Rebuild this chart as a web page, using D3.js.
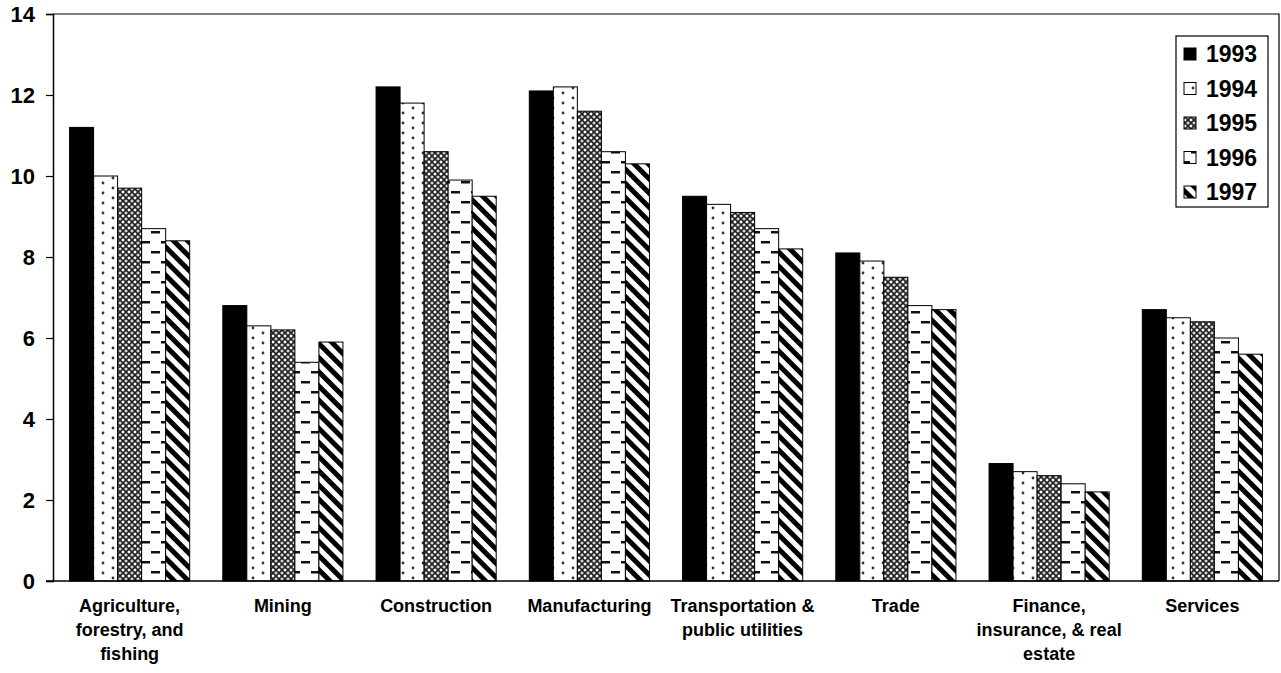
<!DOCTYPE html>
<html><head><meta charset="utf-8">
<script src="https://cdn.jsdelivr.net/npm/d3@7"></script>
<style>body{margin:0;background:#fff}svg{display:block}text{font-family:"Liberation Sans",Arial,sans-serif;font-weight:bold;fill:#000}</style>
</head><body>
<script>
const categories = [["Agriculture,","forestry, and","fishing"],["Mining"],["Construction"],["Manufacturing"],["Transportation &","public utilities"],["Trade"],["Finance,","insurance, & real","estate"],["Services"]];
const years = ["1993","1994","1995","1996","1997"];
const v1993 = [11.2, 6.8, 12.2, 12.1, 9.5, 8.1, 2.9, 6.7];
const v1994 = [10.0, 6.3, 11.8, 12.2, 9.3, 7.9, 2.7, 6.5];
const v1995 = [9.7, 6.2, 10.6, 11.6, 9.1, 7.5, 2.6, 6.4];
const v1996 = [8.7, 5.4, 9.9, 10.6, 8.7, 6.8, 2.4, 6.0];
const v1997 = [8.4, 5.9, 9.5, 10.3, 8.2, 6.7, 2.2, 5.6];
const series = [v1993, v1994, v1995, v1996, v1997];
const yTicks = [0,2,4,6,8,10,12,14];

(function(){
const W = 1281, H = 673;
const svg = d3.select("body").append("svg").attr("width", W).attr("height", H);
const defs = svg.append("defs");

let p = defs.append("pattern").attr("id","p1994").attr("patternUnits","userSpaceOnUse").attr("width",20).attr("height",10);
p.append("rect").attr("width",20).attr("height",10).attr("fill","#fff");
p.append("circle").attr("cx",3).attr("cy",3).attr("r",1.4).attr("fill","#333");
p.append("circle").attr("cx",13).attr("cy",8).attr("r",1.4).attr("fill","#333");

p = defs.append("pattern").attr("id","p1995").attr("patternUnits","userSpaceOnUse").attr("width",6).attr("height",6);
p.append("rect").attr("width",6).attr("height",6).attr("fill","#fff");
p.append("path").attr("d","M0,0L6,6M6,0L0,6").attr("stroke","#222").attr("stroke-width",1.7);
p.append("circle").attr("cx",0).attr("cy",3).attr("r",0.6).attr("fill","#444");
p.append("circle").attr("cx",6).attr("cy",3).attr("r",0.6).attr("fill","#444");

p = defs.append("pattern").attr("id","p1996").attr("patternUnits","userSpaceOnUse").attr("width",20).attr("height",20);
p.append("rect").attr("width",20).attr("height",20).attr("fill","#fff");
p.append("rect").attr("x",1).attr("y",1).attr("width",9).attr("height",2.5).attr("fill","#111");
p.append("rect").attr("x",11).attr("y",11).attr("width",9).attr("height",2.5).attr("fill","#111");

p = defs.append("pattern").attr("id","p1997").attr("patternUnits","userSpaceOnUse").attr("width",10).attr("height",10).attr("patternTransform","rotate(-45)");
p.append("rect").attr("width",10).attr("height",10).attr("fill","#fff");
p.append("rect").attr("x",0).attr("width",5).attr("height",10).attr("fill","#000");

const fills = ["#000","url(#p1994)","url(#p1995)","url(#p1996)","url(#p1997)"];

const mLeft = 53, mRight = 1279, mTop = 14, mBottom = 581;
const x0 = d3.scaleBand().domain(d3.range(categories.length)).range([mLeft, mRight]).paddingInner(0.216).paddingOuter(0.108);
const x1 = d3.scaleBand().domain(d3.range(years.length)).range([0, x0.bandwidth()]);
const y = d3.scaleLinear().domain([0,14]).range([mBottom, mTop]);

const g = svg.append("g");
categories.forEach((c,i)=>{
  series.forEach((s,j)=>{
    g.append("rect").attr("x", x0(i)+x1(j)).attr("y", y(s[i])).attr("width", x1.bandwidth()).attr("height", y(0)-y(s[i]))
      .attr("fill", fills[j]).attr("stroke","#000").attr("stroke-width",1);
  });
});

svg.append("path").attr("d",`M${mLeft},${mTop}H${mRight}V${mBottom}`).attr("fill","none").attr("stroke","#000").attr("stroke-width",1.2);

const ya = svg.append("g").attr("transform",`translate(${mLeft},0)`).call(d3.axisLeft(y).tickValues(yTicks).tickSize(7).tickPadding(11).tickFormat(d3.format("d")));
ya.select(".domain").attr("stroke","#000").attr("stroke-width",1.5);
ya.selectAll(".tick line").attr("stroke","#000").attr("stroke-width",1.2);
ya.selectAll("text").style("font-size","22px").style("font-family","Liberation Sans, Arial, sans-serif").style("font-weight","bold").attr("fill","#000");

const xa = svg.append("g").attr("transform",`translate(0,${mBottom})`).call(d3.axisBottom(x0).tickSize(0).tickFormat(""));
xa.select(".domain").attr("stroke","#000").attr("stroke-width",1.5).attr("d",`M${mLeft-7},0H${mRight}`);
categories.forEach((c,i)=>{
  const cx = x0(i)+x0.bandwidth()/2;
  const t = svg.append("text").attr("x", cx).attr("y", 612).attr("text-anchor","middle").style("font-size","18px");
  c.forEach((line,k)=>t.append("tspan").attr("x", cx).attr("dy", k===0?0:24).text(line));
});

const lg = svg.append("g");
lg.append("rect").attr("x",1176).attr("y",36).attr("width",92).attr("height",171).attr("fill","#fff").attr("stroke","#000").attr("stroke-width",1.2);
years.forEach((yr,j)=>{
  const cy = 54 + j*34.5;
  lg.append("rect").attr("x",1184).attr("y",cy-6).attr("width",12).attr("height",12).attr("fill",fills[j]).attr("stroke","#000").attr("stroke-width",1);
  lg.append("text").attr("x",1206).attr("y",cy).attr("dy","0.36em").style("font-size","23px").text(yr);
});
})();
</script>
</body></html>
